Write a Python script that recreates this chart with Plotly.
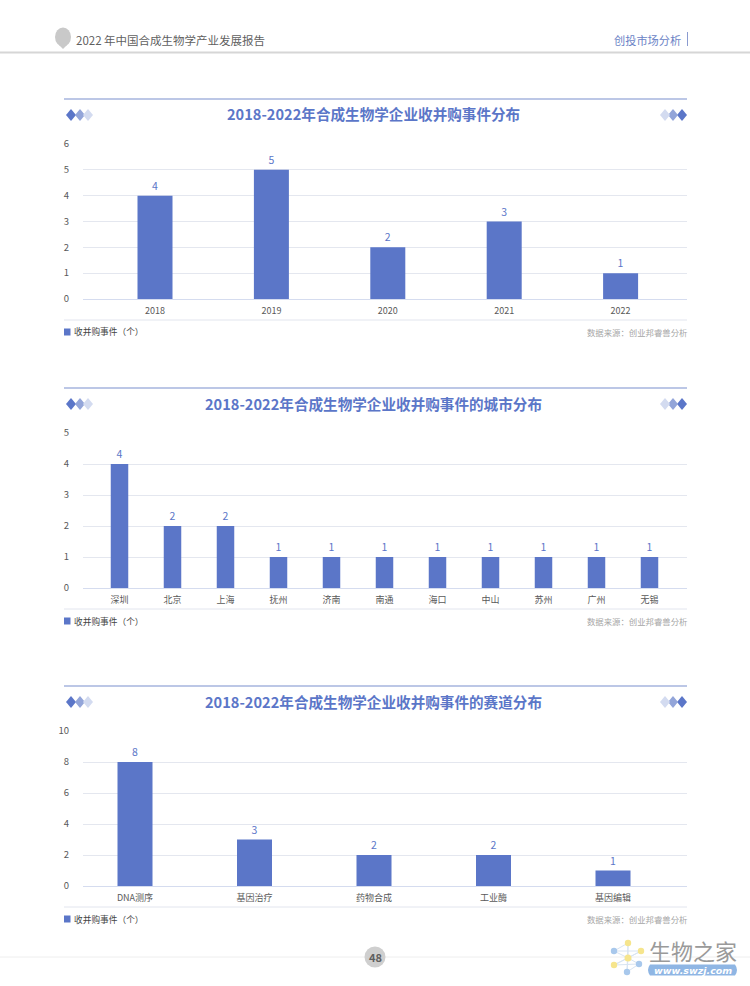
import plotly.graph_objects as go

W, H = 750, 986
FONT = "Noto Sans CJK SC"
BLUE = "#5b76c8"

# ---- data ----
years = ["2018", "2019", "2020", "2021", "2022"]
year_counts = [4, 5, 2, 3, 1]
cities = ["深圳", "北京", "上海", "抚州", "济南", "南通", "海口", "中山", "苏州", "广州", "无锡"]
city_counts = [4, 2, 2, 1, 1, 1, 1, 1, 1, 1, 1]
tracks = ["DNA测序", "基因治疗", "药物合成", "工业酶", "基因编辑"]
track_counts = [8, 3, 2, 2, 1]
titles = ["2018-2022年合成生物学企业收并购事件分布",
          "2018-2022年合成生物学企业收并购事件的城市分布",
          "2018-2022年合成生物学企业收并购事件的赛道分布"]
series_name = "收并购事件（个）"
source_note = "数据来源：创业邦睿兽分析"
report_title = "2022 年中国合成生物学产业发展报告"
section_title = "创投市场分析"
page_number = "48"


def px(x):
    return x / W


def py(y):
    return 1 - y / H


shapes, annos = [], []


def line(x0, y0, x1, y1, color, width=1):
    shapes.append(dict(type="line", xref="paper", yref="paper", x0=px(x0), x1=px(x1),
                       y0=py(y0), y1=py(y1), line=dict(color=color, width=width), layer="below"))


def text(x, y, s, size, color, anchor="left", bold=False, italic=False, family=FONT):
    if bold:
        s = f"<b>{s}</b>"
    if italic:
        s = f"<i>{s}</i>"
    annos.append(dict(xref="paper", yref="paper", x=px(x), y=py(y), text=s, showarrow=False,
                      xanchor=anchor, yanchor="middle", borderpad=0, borderwidth=0,
                      font=dict(size=size, color=color, family=family)))


def diamond(cx, cy, color, w=5, h=6):
    path = (f"M {px(cx-w)} {py(cy)} L {px(cx)} {py(cy-h)} L {px(cx+w)} {py(cy)} "
            f"L {px(cx)} {py(cy+h)} Z")
    shapes.append(dict(type="path", xref="paper", yref="paper", path=path,
                       fillcolor=color, line=dict(width=0)))


def circle(cx, cy, rx, ry, color, layer="above"):
    shapes.append(dict(type="circle", xref="paper", yref="paper", x0=px(cx-rx), x1=px(cx+rx),
                       y0=py(cy-ry), y1=py(cy+ry), fillcolor=color, line=dict(width=0), layer=layer))


fig = go.Figure()

panels = [
    dict(cats=years, vals=year_counts, ymax=6, dtick=1, top=144, bot=299, c0=155, step=116.4, bar=35,
         rule=99, ttl=115, base=320, leg=332, title=titles[0]),
    dict(cats=cities, vals=city_counts, ymax=5, dtick=1, top=433, bot=588, c0=119.5, step=53, bar=17.5,
         rule=388, ttl=404, base=609, leg=621, title=titles[1]),
    dict(cats=tracks, vals=track_counts, ymax=10, dtick=2, top=731, bot=886, c0=135, step=119.5, bar=35,
         rule=686, ttl=702, base=907, leg=919, title=titles[2]),
]

layout_axes = {}
X0, X1 = 83, 687
for i, p in enumerate(panels):
    n = "" if i == 0 else str(i + 1)
    fig.add_trace(go.Bar(
        x=p["cats"], y=p["vals"], xaxis=f"x{n}", yaxis=f"y{n}", name=series_name,
        marker=dict(color=BLUE, line=dict(width=0)), width=p["bar"] / p["step"],
        text=p["vals"], textposition="outside", cliponaxis=False,
        textfont=dict(size=10.5, color=BLUE, family=FONT), showlegend=False))
    layout_axes[f"xaxis{n}"] = dict(
        domain=[px(X0), px(X1)], anchor=f"y{n}", type="category",
        range=[(X0 - p["c0"]) / p["step"], (X1 - p["c0"]) / p["step"]],
        showgrid=False, showline=True, linecolor="#d5dcef", linewidth=1, zeroline=False,
        ticks="outside", ticklen=3, tickcolor="rgba(0,0,0,0)",
        tickfont=dict(size=9, color="#595959", family=FONT), fixedrange=True)
    layout_axes[f"yaxis{n}"] = dict(
        domain=[py(p["bot"]), py(p["top"])], anchor=f"x{n}", range=[0, p["ymax"]], dtick=p["dtick"],
        showgrid=True, gridcolor="#e4e7ef", gridwidth=1, zeroline=False, showline=False,
        ticks="outside", ticklen=11, tickcolor="rgba(0,0,0,0)",
        tickfont=dict(size=9.5, color="#595959", family=FONT), fixedrange=True)

    # frame of the panel
    line(64, p["rule"], 687, p["rule"], "#bcc7e6", 2)
    line(64, p["base"], 687, p["base"], "#e2e5ee", 1)
    text(373.7, p["ttl"] - 1, p["title"], 14.6, BLUE, "center", bold=True)
    for cx, col in zip((71, 80, 88), (BLUE, "#93a5d9", "#d3dbf0")):
        diamond(cx, p["ttl"], col)
    for cx, col in zip((682, 673, 665), (BLUE, "#93a5d9", "#d3dbf0")):
        diamond(cx, p["ttl"], col)
    # legend and source
    shapes.append(dict(type="rect", xref="paper", yref="paper", x0=px(64), x1=px(70.5),
                       y0=py(p["leg"] - 3.5), y1=py(p["leg"] + 3.5), fillcolor=BLUE, line=dict(width=0)))
    text(74, p["leg"], series_name, 8.7, "#444444")
    text(687.5, p["leg"], source_note, 8.4, "#a6a6a6", "right")

# page header
circle(63, 37, 8, 9.5, "#c9c9c9")
shapes.append(dict(type="path", xref="paper", yref="paper", fillcolor="#c9c9c9", line=dict(width=0),
                   path=f"M {px(59)} {py(45)} L {px(67)} {py(45)} L {px(63)} {py(49)} Z"))
text(76, 39.5, report_title, 11.5, "#5f5f5f")
text(681, 39.5, section_title, 11.2, "#6b83c6", "right")
line(687.5, 32, 687.5, 46, "#8b9bd0", 1)
line(0, 52.5, 750, 52.5, "#d6d6d6", 2)

# page footer
line(0, 957, 750, 957, "#eeeeee", 1)
circle(375, 957, 10.5, 10.5, "#cfcfcf")
text(375, 957, page_number, 11, "#5f5f5f", "center", bold=True)

# watermark
hub = (628, 958)
nodes = [((628, 943), "#f6e58d"), ((614, 951), "#a8c8ec"), ((641, 951), "#f6e58d"),
         ((614, 965), "#f6e58d"), ((639, 964), "#a8c8ec"), ((627, 972), "#a8c8ec")]
for i, ((x, y), col) in enumerate(nodes):
    line(hub[0], hub[1], x, y, "#d8e4f2", 1)
    nx, ny = nodes[(i + 1) % len(nodes)][0]
    line(x, y, nx, ny, "#d8e4f2", 1)
    circle(x, y, 3.2, 3.2, col)
circle(hub[0], hub[1], 3.5, 3.5, "#f6e58d")
text(692.5, 950, "生物之家", 22, "#9a9a9a", "center")
shapes.append(dict(type="path", xref="paper", yref="paper", fillcolor="#8fb6e4", line=dict(width=0),
                   path=f"M {px(650)} {py(964.5)} L {px(735)} {py(964.5)} Q {px(739)} {py(970)} {px(735)} {py(975.5)} "
                        f"L {px(650)} {py(975.5)} Q {px(646)} {py(970)} {px(650)} {py(964.5)} Z"))
text(692.5, 970.5, "www.swzj.com", 9.5, "#ffffff", "center", bold=True, italic=True, family="DejaVu Sans")

fig.update_layout(width=W, height=H, margin=dict(l=0, r=0, t=0, b=0, pad=0, autoexpand=False),
                  paper_bgcolor="white", plot_bgcolor="white", shapes=shapes, annotations=annos,
                  font=dict(family=FONT), **layout_axes)
fig.write_html("out.html", config=dict(displayModeBar=False),
               post_script="document.body.style.margin='0';window.dispatchEvent(new Event('resize'));")
